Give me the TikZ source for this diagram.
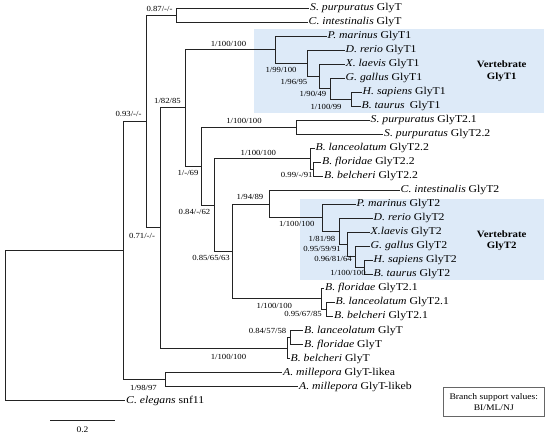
\documentclass[tikz,border=0pt]{standalone}
\usepackage{fontspec}
\setmainfont{Liberation Serif}[FakeStretch=1.12]
\usetikzlibrary{calc}
\definecolor{cladeblue}{RGB}{221,234,248}
\definecolor{treegray}{RGB}{35,35,35}
\newcommand{\spc}[1]{\textit{#1}}
\tikzset{
	branch/.style={draw=treegray, line width=0.9pt},
	leaf/.style={anchor=west, inner xsep=1bp, inner ysep=0pt, font=\fontsize{10.5}{12}\selectfont},
	supp/.style={inner sep=0pt, font=\fontsize{7.8}{9}\selectfont},
	cladename/.style={align=center, font=\fontsize{9.7}{12}\selectfont\bfseries},
}

\begin{document}
\begin{tikzpicture}[x=1bp, y=-1bp]
				\useasboundingbox (0,0) rectangle (550,438);
				
				\fill[cladeblue] (254,29.3) rectangle (544,113.3);
				\fill[cladeblue] (300,199) rectangle (544,280);
				\node[cladename] (vert1) at (501.7,71) {Vertebrate\\GlyT1};
				\node[cladename] (vert2) at (501.7,240.7) {Vertebrate\\GlyT2};
				
				\coordinate (root) at (5,325.5);
				\coordinate (A) at (123,250.5);
				\coordinate (B) at (146,121.5);
				\coordinate (C) at (176,15);
				\coordinate (D) at (160,227.9);
				\coordinate (F) at (185,107.9);
				\coordinate (M) at (165,379.5);
				\coordinate (V) at (287.7,348);
				\coordinate (V2) at (290.5,337.5);
				\coordinate (G1) at (275,49.6);
				\coordinate (H1) at (307,63.2);
				\coordinate (I1) at (319,76.4);
				\coordinate (J1) at (330,88.6);
				\coordinate (K1) at (351,99.1);
				\coordinate (P) at (201,166.2);
				\coordinate (S) at (296,127.2);
				\coordinate (Q) at (214,205.1);
				\coordinate (T) at (310.7,158.7);
				\coordinate (T2) at (313,169.2);
				\coordinate (R) at (232.7,251.5);
				\coordinate (CG) at (269.3,204.1);
				\coordinate (G2) at (322.7,217.9);
				\coordinate (H2) at (339.3,231.4);
				\coordinate (I2) at (347.7,244.6);
				\coordinate (J2) at (355,256.9);
				\coordinate (K2) at (364,267.4);
				\coordinate (U) at (321.7,298.9);
				\coordinate (U2) at (326,309.4);
				
				\foreach \nm/\px/\py/\txt in {
					spurT/309/8/{\spc{S. purpuratus} GlyT},
					cintT/307.5/22/{\spc{C. intestinalis} GlyT},
					pmarA/326.5/36/{\spc{P. marinus} GlyT1},
					drerA/344.5/50.1/{\spc{D. rerio} GlyT1},
					xlaeA/344.5/64.1/{\spc{X. laevis} GlyT1},
					ggalA/344.5/78.1/{\spc{G. gallus} GlyT1},
					hsapA/361.5/92.1/{\spc{H. sapiens} GlyT1},
					btauA/360.5/106.1/{\spc{B. taurus}\enspace GlyT1},
					spurB1/369.5/120.2/{\spc{S. purpuratus} GlyT2.1},
					spurB2/383/134.2/{\spc{S. purpuratus} GlyT2.2},
					blanC2/314.5/148.2/{\spc{B. lanceolatum} GlyT2.2},
					bfloC2/321/162.2/{\spc{B. floridae} GlyT2.2},
					bbelC2/323/176.2/{\spc{B. belcheri} GlyT2.2},
					cintB/399.5/190.3/{\spc{C. intestinalis} GlyT2},
					pmarB/355.5/204.3/{\spc{P. marinus} GlyT2},
					drerB/372.5/218.3/{\spc{D. rerio} GlyT2},
					xlaeB/369.5/232.3/{\spc{X.laevis} GlyT2},
					ggalB/369.5/246.3/{\spc{G. gallus} GlyT2},
					hsapB/372.5/260.4/{\spc{H. sapiens} GlyT2},
					btauB/372.5/274.4/{\spc{B. taurus} GlyT2},
					bfloD1/324/288.4/{\spc{B. floridae} GlyT2.1},
					blanD1/334.5/302.4/{\spc{B. lanceolatum} GlyT2.1},
					bbelD1/333/316.4/{\spc{B. belcheri} GlyT2.1},
					blanT/303/330.5/{\spc{B. lanceolatum} GlyT},
					bfloT/303/344.5/{\spc{B. floridae} GlyT},
					bbelT/289.5/358.5/{\spc{B. belcheri} GlyT},
					amilA/282/372.5/{\spc{A. millepora} GlyT-likea},
					amilB/298/386.5/{\spc{A. millepora} GlyT-likeb},
					cele/125/400.6/{\spc{C. elegans} snf11}}{
					\node[leaf] (\nm) at (\px,\py) {\txt};}
				
				\foreach \p/\c in {root/A, root/cele, A/B, A/M, M/amilA, M/amilB,
					B/C, B/D, C/spurT, C/cintT, D/F, D/V,
					V/V2, V/bbelT, V2/blanT, V2/bfloT, F/G1, F/P,
					G1/pmarA, G1/H1, H1/drerA, H1/I1, I1/xlaeA, I1/J1,
					J1/ggalA, J1/K1, K1/hsapA, K1/btauA,
					P/S, P/Q, S/spurB1, S/spurB2, Q/T, Q/R,
					T/blanC2, T/T2, T2/bfloC2, T2/bbelC2, R/CG, R/U,
					CG/cintB, CG/G2, G2/pmarB, G2/H2, H2/drerB, H2/I2,
					I2/xlaeB, I2/J2, J2/ggalB, J2/K2, K2/hsapB, K2/btauB,
					U/bfloD1, U/U2, U2/blanD1, U2/bbelD1}{
					\draw[branch] (\p) |- (\c);}
				
				\node[supp] (lC) at (159.5,8.7) {0.87/-/-};
				\node[supp] (lB) at (128.5,114) {0.93/-/-};
				\node[supp] (lF) at (167.5,100.7) {1/82/85};
				\node[supp] (lG1) at (228.5,44) {1/100/100};
				\node[supp] (lH1) at (281,70.3) {1/99/100};
				\node[supp] (lI1) at (294,82) {1/96/95};
				\node[supp] (lJ1) at (313,93.7) {1/90/49};
				\node[supp] (lK1) at (326,106.5) {1/100/99};
				\node[supp] (lS) at (244,120.7) {1/100/100};
				\node[supp] (lP) at (188,173.3) {1/-/69};
				\node[supp] (lT) at (258.3,153.3) {1/100/100};
				\node[supp] (lT2) at (296.7,175) {0.99/-/91};
				\node[supp] (lQ) at (194.5,211.7) {0.84/-/62};
				\node[supp] (lCG) at (250,197.3) {1/94/89};
				\node[supp] (lG2) at (296.7,224.3) {1/100/100};
				\node[supp] (lH2) at (322,238.5) {1/81/98};
				\node[supp] (lI2) at (322,249.3) {0.95/59/91};
				\node[supp] (lJ2) at (333,259.2) {0.96/81/64};
				\node[supp] (lK2) at (348,273.3) {1/100/100};
				\node[supp] (lR) at (211,258.3) {0.85/65/63};
				\node[supp] (lU) at (274.3,305.7) {1/100/100};
				\node[supp] (lU2) at (303,313.5) {0.95/67/85};
				\node[supp] (lV2) at (267.5,330.7) {0.84/57/58};
				\node[supp] (lV) at (228.5,356.7) {1/100/100};
				\node[supp] (lD) at (142,235.7) {0.71/-/-};
				\node[supp] (lM) at (143.5,387.7) {1/98/97};
				
				\coordinate (sb1) at (50,420.7);
				\coordinate (sb2) at (115,420.7);
				\draw[treegray, line width=1.3pt] (sb1) -- (sb2);
				\node[supp, font=\fontsize{8.5}{10}\selectfont] (sblab) at (82.5,429.5) {0.2};
				
				\node[draw=black!60, line width=0.5pt, minimum width=101bp, minimum height=29bp,
					align=center, font=\fontsize{8.6}{11}\selectfont] (legend) at (493.8,402.2)
					{Branch support values:\\BI/ML/NJ};
			\end{tikzpicture}
\end{document}
